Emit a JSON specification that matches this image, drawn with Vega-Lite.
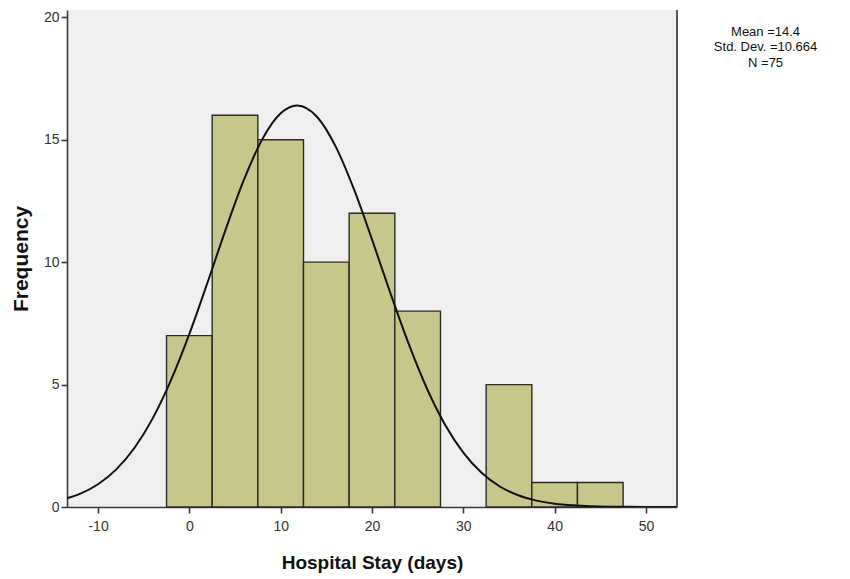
{
  "$schema": "https://vega.github.io/schema/vega-lite/v6.json",
  "autosize": {"type": "none"},
  "padding": {"left": 67, "top": 10, "right": 173, "bottom": 72},
  "width": 610,
  "height": 497,
  "background": "white",
  "config": {
    "view": {"fill": "#efefef", "stroke": null},
    "font": "Liberation Sans",
    "axis": {
      "grid": false,
      "domainColor": "#3a3a3a",
      "domainWidth": 1.6,
      "tickColor": "#3a3a3a",
      "tickWidth": 1.6,
      "tickSize": 6,
      "labelFont": "Liberation Sans",
      "labelFontSize": 14,
      "labelColor": "#333333",
      "titleFont": "Liberation Sans",
      "titleFontSize": 19,
      "titleFontWeight": "bold",
      "titleColor": "#111111"
    }
  },
  "datasets": {
    "bins": [
      {"bin_start": -2.5, "bin_end": 2.5, "count": 7},
      {"bin_start": 2.5, "bin_end": 7.5, "count": 16},
      {"bin_start": 7.5, "bin_end": 12.5, "count": 15},
      {"bin_start": 12.5, "bin_end": 17.5, "count": 10},
      {"bin_start": 17.5, "bin_end": 22.5, "count": 12},
      {"bin_start": 22.5, "bin_end": 27.5, "count": 8},
      {"bin_start": 32.5, "bin_end": 37.5, "count": 5},
      {"bin_start": 37.5, "bin_end": 42.5, "count": 1},
      {"bin_start": 42.5, "bin_end": 47.5, "count": 1}
    ],
    "curve": [
      {"x": -13.4, "y": 0.355},
      {"x": -12, "y": 0.536},
      {"x": -10, "y": 0.931},
      {"x": -8, "y": 1.538},
      {"x": -6, "y": 2.42},
      {"x": -4, "y": 3.63},
      {"x": -2, "y": 5.19},
      {"x": 0, "y": 7.07},
      {"x": 2, "y": 9.18},
      {"x": 4, "y": 11.36},
      {"x": 6, "y": 13.39},
      {"x": 8, "y": 15.03},
      {"x": 10, "y": 16.08},
      {"x": 11.8, "y": 16.4},
      {"x": 14, "y": 15.93},
      {"x": 16, "y": 14.74},
      {"x": 18, "y": 13.0},
      {"x": 20, "y": 10.93},
      {"x": 22, "y": 8.75},
      {"x": 24, "y": 6.68},
      {"x": 26, "y": 4.85},
      {"x": 28, "y": 3.36},
      {"x": 30, "y": 2.22},
      {"x": 32, "y": 1.396},
      {"x": 34, "y": 0.837},
      {"x": 36, "y": 0.478},
      {"x": 38, "y": 0.26},
      {"x": 40, "y": 0.135},
      {"x": 42, "y": 0.067},
      {"x": 44, "y": 0.031},
      {"x": 46, "y": 0.014},
      {"x": 48, "y": 0.006},
      {"x": 50, "y": 0.002},
      {"x": 53.4, "y": 0.0}
    ]
  },
  "layer": [
    {
      "data": {"name": "bins"},
      "mark": {"type": "bar", "fill": "#c8c78b", "stroke": "#2a2a2a", "strokeWidth": 1.4},
      "encoding": {
        "x": {
          "field": "bin_start", "type": "quantitative",
          "scale": {"domain": [-13.4, 53.4], "nice": false, "zero": false},
          "axis": {"values": [-10, 0, 10, 20, 30, 40, 50], "labelExpr": "toString(datum.value)", "title": "Hospital Stay (days)", "labelPadding": 6, "titlePadding": 20}
        },
        "x2": {"field": "bin_end"},
        "y": {
          "field": "count", "type": "quantitative",
          "scale": {"domain": [0, 20.3], "nice": false},
          "axis": {"values": [0, 5, 10, 15, 20], "title": "Frequency", "titleFontSize": 21, "labelPadding": 2, "titlePadding": 12}
        },
        "y2": {"datum": 0}
      }
    },
    {
      "data": {"name": "curve"},
      "mark": {"type": "line", "color": "#111111", "strokeWidth": 2, "interpolate": "monotone", "clip": true},
      "encoding": {
        "x": {"field": "x", "type": "quantitative"},
        "y": {"field": "y", "type": "quantitative"}
      }
    },
    {
      "data": {"values": [{}]},
      "mark": {"type": "rule", "color": "#555555", "strokeWidth": 2},
      "encoding": {
        "x": {"datum": 53.4}
      }
    },
    {
      "data": {"values": [{}]},
      "mark": {"type": "text", "align": "center", "baseline": "top", "fontSize": 13, "lineHeight": 15.5, "color": "#111111", "font": "Liberation Sans", "clip": false},
      "encoding": {
        "x": {"datum": 63.1},
        "y": {"datum": 19.65},
        "text": {"value": ["Mean =14.4", "Std. Dev. =10.664", "N =75"]}
      }
    }
  ]
}
